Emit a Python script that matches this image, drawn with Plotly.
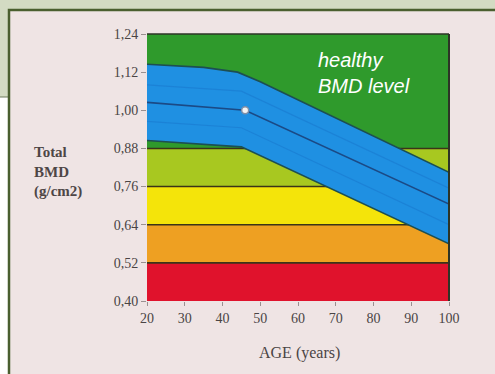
import plotly.graph_objects as go

# ---------------- data ----------------
band_edges = [0.40, 0.52, 0.64, 0.76, 0.88, 1.24]
band_colors = ["#e0122c", "#eea022", "#f4e40a", "#a8c820", "#2f9a2c"]
age_range = [20, 100]

upper_ages = [20, 35, 44, 50, 100]
upper_bmd = [1.145, 1.135, 1.12, 1.09, 0.805]
center_ages = [20, 46, 100]
center_bmd = [1.025, 1.00, 0.705]
lower_ages = [20, 45, 100]
lower_bmd = [0.905, 0.885, 0.58]
inner_hi_ages = [20, 45, 100]
inner_hi_bmd = [1.08, 1.06, 0.755]
inner_lo_ages = [20, 45, 100]
inner_lo_bmd = [0.965, 0.945, 0.64]

patient_age = [46]
patient_bmd = [1.00]

x_ticks = [20, 30, 40, 50, 60, 70, 80, 90, 100]
y_ticks = [0.40, 0.52, 0.64, 0.76, 0.88, 1.00, 1.12, 1.24]
y_ticktext = ["0,40", "0,52", "0,64", "0,76", "0,88", "1,00", "1,12", "1,24"]

# ---------------- geometry (pixels) ----------------
W, H = 495, 374
L, R, T, B = 147, 449, 34, 301


def px(x):
    return (x - L) / (R - L)


def py(y):
    return (B - y) / (B - T)


fig = go.Figure()

# colour bands
for i, c in enumerate(band_colors):
    lo, hi = band_edges[i], band_edges[i + 1]
    fig.add_trace(go.Scatter(
        x=[age_range[0], age_range[1], age_range[1], age_range[0], age_range[0]],
        y=[lo, lo, hi, hi, lo], fill="toself", fillcolor=c, mode="none",
        hoverinfo="skip", showlegend=False))

# band separator lines
for v in band_edges[1:-1]:
    fig.add_trace(go.Scatter(x=age_range, y=[v, v], mode="lines",
                             line=dict(color="#3b3418", width=1.6),
                             hoverinfo="skip", showlegend=False))

# blue reference band
fig.add_trace(go.Scatter(x=upper_ages + lower_ages[::-1],
                         y=upper_bmd + lower_bmd[::-1],
                         fill="toself", fillcolor="#1f90e2", mode="none",
                         hoverinfo="skip", showlegend=False))
for xs, ys, col, w in [
    (inner_hi_ages, inner_hi_bmd, "rgba(20,100,190,0.30)", 1.2),
    (inner_lo_ages, inner_lo_bmd, "rgba(20,100,190,0.30)", 1.2),
    (upper_ages, upper_bmd, "#1d4f52", 1.6),
    (lower_ages, lower_bmd, "#1d4f52", 1.6),
    (center_ages, center_bmd, "#1b4a86", 1.6),
]:
    fig.add_trace(go.Scatter(x=xs, y=ys, mode="lines",
                             line=dict(color=col, width=w),
                             hoverinfo="skip", showlegend=False))

fig.add_trace(go.Scatter(x=patient_age, y=patient_bmd, mode="markers",
                         marker=dict(size=7, color="#f4f4f4",
                                     line=dict(color="#7d8fa8", width=1.5)),
                         hoverinfo="skip", showlegend=False))

shapes = [
    # grey-green back strip
    dict(type="rect", xref="paper", yref="paper",
         x0=px(-10), x1=px(W + 10), y0=py(97), y1=py(-10),
         fillcolor="#d3dbc3", line=dict(color="#6f7c5e", width=1.2),
         layer="below"),
    # pink panel with dark green frame
    dict(type="rect", xref="paper", yref="paper",
         x0=px(9), x1=px(W + 10), y0=py(H + 10), y1=py(10),
         fillcolor="#efe4e4", line=dict(color="#4a5f2f", width=2.5),
         layer="below"),
    # dark right / top edges of chart
    dict(type="line", xref="paper", yref="paper", x0=1, x1=1, y0=0, y1=1,
         line=dict(color="#2d3426", width=2)),
    dict(type="line", xref="paper", yref="paper", x0=0, x1=1, y0=1, y1=1,
         line=dict(color="#2d3426", width=1.5)),
]

annotations = [
    dict(text="<i>healthy<br>BMD level</i>", xref="paper", yref="paper",
         x=px(316), y=py(73), xanchor="left", yanchor="middle", align="left",
         showarrow=False,
         font=dict(family="Liberation Sans, Arial", size=20, color="#ffffff")),
    dict(text="<b>Total<br>BMD<br>(g/cm2)</b>", xref="paper", yref="paper",
         x=px(32), y=py(172), xanchor="left", yanchor="middle", align="left",
         showarrow=False,
         font=dict(family="Liberation Serif, Times New Roman", size=15,
                   color="#4e4646")),
    dict(text="AGE (years)", xref="paper", yref="paper",
         x=px(299), y=py(353), xanchor="center", yanchor="middle",
         showarrow=False,
         font=dict(family="Liberation Serif, Times New Roman", size=16,
                   color="#4a4444")),
]

tickfont = dict(family="Liberation Serif, Times New Roman", size=14,
                color="#4a4444")

fig.update_layout(
    width=W, height=H,
    margin=dict(l=L, r=W - R, t=T, b=H - B, pad=0),
    paper_bgcolor="#ffffff",
    plot_bgcolor="rgba(0,0,0,0)",
    shapes=shapes,
    annotations=annotations,
    showlegend=False,
    xaxis=dict(range=age_range, tickvals=x_ticks, ticks="outside",
               ticklen=4, tickcolor="#9a9090", tickfont=tickfont,
               showgrid=False, zeroline=False, showline=False,
               fixedrange=True),
    yaxis=dict(range=[band_edges[0], band_edges[-1]], tickvals=y_ticks,
               ticktext=y_ticktext, ticks="outside", ticklen=5,
               tickcolor="#9a9090", tickfont=tickfont, showgrid=False,
               zeroline=False, showline=False, fixedrange=True),
)

fig.write_html(
    "out.html",
    config={"displayModeBar": False},
    post_script="document.body.style.margin='0';document.body.style.overflow='hidden';",
)
